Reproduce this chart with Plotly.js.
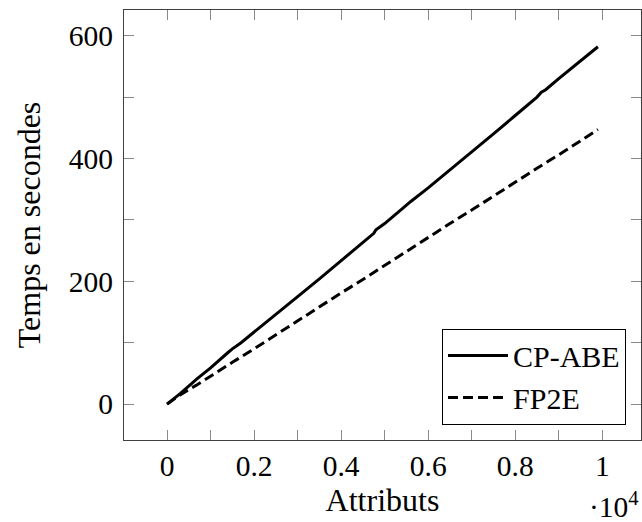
<!DOCTYPE html>
<html>
<head>
<meta charset="utf-8">
<script src="https://cdn.plot.ly/plotly-3.0.1.min.js"></script>
<style>html,body{margin:0;padding:0;background:#fff;}#chart{width:642px;height:522px;}</style>
</head>
<body>
<div id="chart"></div>
<script>
// Number of attributes
const cpabeX = [0, 300, 700, 1000, 1400, 1500, 1700, 2000, 2500, 3000, 3500, 4000, 4500, 4750, 4800, 5000, 5400, 5600, 6000, 6500, 7000, 7500, 8000, 8500, 8600, 8700, 9000, 9500, 9900];
// Time in seconds, CP-ABE
const cpabeY = [0, 17, 42, 59, 84, 90, 100, 117, 146, 175, 204, 234, 263, 278, 284, 294, 318, 330, 352, 381, 410, 440, 470, 500, 508, 512, 530, 559, 582];

const fp2eX = [0, 300, 700, 1000, 1500, 2000, 2500, 3000, 3500, 4000, 4500, 5000, 5500, 6000, 6500, 7000, 7500, 8000, 8500, 9000, 9500, 9900];
// Time in seconds, FP2E
const fp2eY = [0, 15, 32, 45, 68, 90, 113, 136, 158, 181, 203, 226, 248, 271, 294, 316, 339, 361, 384, 406, 429, 447];

const xTickVals = [0, 2000, 4000, 6000, 8000, 10000];
const xTickText = ['0', '0.2', '0.4', '0.6', '0.8', '1'];
const yTickVals = [0, 200, 400, 600];
const yTickText = ['0', '200', '400', '600'];

const FONT = 'Liberation Serif, Times New Roman, serif';
const TICKC = '#8a8a8a';

const traces = [
  {x: cpabeX, y: cpabeY, name: 'CP-ABE', mode: 'lines', type: 'scatter',
   line: {color: '#000', width: 3}},
  {x: fp2eX, y: fp2eY, name: 'FP2E', mode: 'lines', type: 'scatter',
   line: {color: '#000', width: 3, dash: '10px,5px'}}
];

const layout = {
  width: 642, height: 522,
  margin: {l: 123.5, r: 1, t: 9.5, b: 82, pad: 0},
  paper_bgcolor: '#fff', plot_bgcolor: '#fff',
  font: {family: FONT, size: 29, color: '#000'},
  showlegend: true,
  legend: {x: 0.971, y: 0.036, xanchor: 'right', yanchor: 'bottom',
    bgcolor: '#fff', bordercolor: '#000', borderwidth: 1, tracegroupgap: 0,
    itemwidth: 60,
    font: {family: FONT, size: 30, color: '#000'}},
  xaxis: {
    range: [-990, 10890], tickmode: 'array', tickvals: xTickVals, ticktext: xTickText,
    ticks: 'inside', ticklen: 10, tickwidth: 1, tickcolor: TICKC,
    minor: {ticks: 'inside', ticklen: 10, tickwidth: 1, tickcolor: TICKC, dtick: 1000, tick0: 0, showgrid: false},
    showline: true, linecolor: '#404040', linewidth: 1, mirror: 'ticks',
    showgrid: false, zeroline: false, automargin: false,
    tickfont: {family: FONT, size: 29.5, color: '#000'},
    title: {text: 'Attributs', font: {family: FONT, size: 32, color: '#000'}, standoff: 6}
  },
  yaxis: {
    range: [-58.5, 641.8], tickmode: 'array', tickvals: yTickVals, ticktext: yTickText,
    ticks: 'inside', ticklen: 10, tickwidth: 1, tickcolor: TICKC,
    minor: {ticks: 'inside', ticklen: 10, tickwidth: 1, tickcolor: TICKC, dtick: 100, tick0: 0, showgrid: false},
    showline: true, linecolor: '#404040', linewidth: 1, mirror: 'ticks',
    showgrid: false, zeroline: false, automargin: false,
    ticklabelstandoff: 4,
    tickfont: {family: FONT, size: 29.5, color: '#000'},
    title: {text: 'Temps en secondes', font: {family: FONT, size: 32, color: '#000'}, standoff: 18}
  },
  annotations: [
    {text: '·10<sup>4</sup>', xref: 'paper', yref: 'paper', x: 1, y: 0, xanchor: 'right', yanchor: 'top',
     yshift: -45, showarrow: false, font: {family: FONT, size: 29.5, color: '#000'}}
  ]
};

Plotly.newPlot('chart', traces, layout, {displayModeBar: false, staticPlot: true});
</script>
</body>
</html>
